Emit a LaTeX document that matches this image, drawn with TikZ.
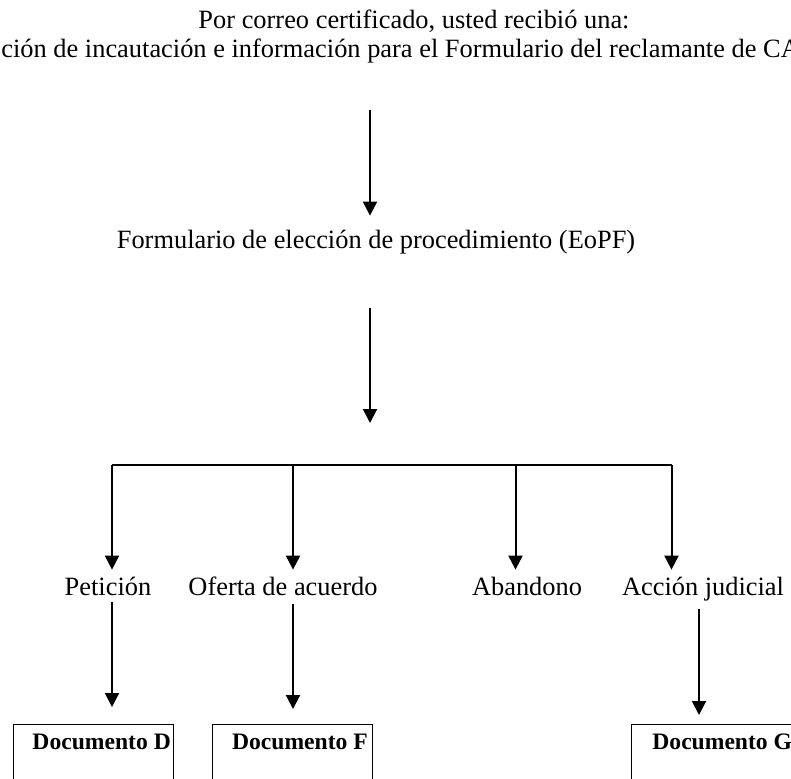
\documentclass[tikz,border=0pt]{standalone}
\usepackage{fontspec}
\setmainfont{Liberation Serif}
\usetikzlibrary{arrows.meta,positioning}
\begin{document}
\begin{tikzpicture}[x=0.5pt,y=-0.5pt,
txt/.style={inner sep=0pt,font=\fontsize{13.2}{16}\selectfont,
 text height=9.2pt,text depth=2.9pt},
doc/.style={inner sep=0pt,font=\fontsize{11.8}{14}\selectfont\bfseries},
docbox/.style={draw,line width=0.6pt,minimum width=80pt,minimum height=60pt,
 inner sep=0pt,anchor=north west},
arr/.style={line width=1pt,-{Triangle[length=7pt,width=7pt]}}]
 \useasboundingbox (0,0) rectangle (791,778);
 \clip (0,0) rectangle (791,778);
 \node[txt,anchor=base] (mail) at (414,28) {Por correo certificado, usted recibió una:};
 \node[txt,anchor=base west] (notice) at (1,57)
 {ción de incautación e información para el Formulario del reclamante de CA};
 \node[txt,anchor=base] (eopf) at (376,248)
 {Formulario de elección de procedimiento (EoPF)};
 \coordinate (spine) at (370,0);
 \draw[arr,shorten <=23.6pt,shorten >=6.8pt] (notice.south -| spine) -- (eopf.north -| spine);
 \path (112,465) coordinate (b1) (293,465) coordinate (b2)
 (515.5,465) coordinate (b3) (671.5,465) coordinate (b4) (699,0) coordinate (g);
 \draw[arr,shorten <=27.1pt,shorten >=21pt] (eopf.south -| spine) -- (spine |- b1);
 \draw[line width=1pt] (b1) -- (b4);
 \foreach \n/\t/\x in {pet/Petición/108,ofe/Oferta de acuerdo/283,
 aba/Abandono/527,acc/Acción judicial/703}
 {\node[txt,anchor=base] (\n) at (\x,595) {\t};}
 \foreach \n/\b in {pet/b1,ofe/b2,aba/b3,acc/b4}
 {\draw[arr,shorten >=3.3pt] (\b) -- (\b |- \n.north);}
 \node[docbox] (boxD) at (12.7,724) {};
 \node[docbox] (boxF) at (212,724) {};
 \node[docbox,minimum width=100pt] (boxG) at (631,724) {};
 \node[doc,anchor=base east] (docD) at ([shift={(-2.7,25)}]boxD.north east) {Documento D};
 \node[doc,anchor=base east] (docF) at ([shift={(-5,25)}]boxF.north east) {Documento F};
 \node[doc,anchor=base west] (docG) at ([shift={(21,25)}]boxG.north west) {Documento G};
 \draw[arr,shorten <=0.6pt,shorten >=8.5pt] (pet.south -| b1) -- (b1 |- boxD.north);
 \draw[arr,shorten <=1.6pt,shorten >=7.5pt] (ofe.south -| b2) -- (b2 |- boxF.north);
 \draw[arr,shorten <=4.1pt,shorten >=4.5pt] (acc.south -| g) -- (g |- boxG.north);
\end{tikzpicture}
\end{document}
